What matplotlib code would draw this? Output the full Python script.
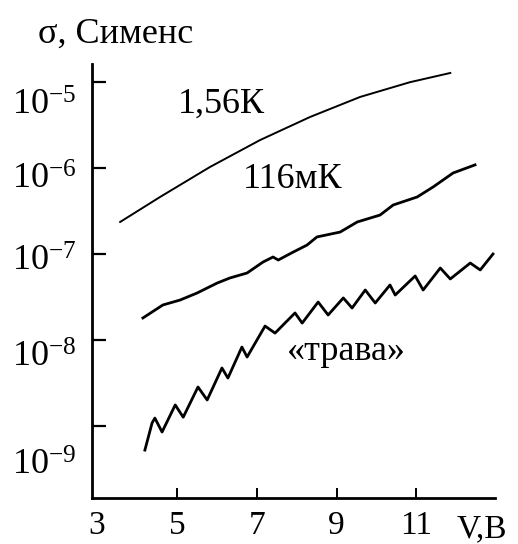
import numpy as np
import matplotlib
matplotlib.use("Agg")
import matplotlib.pyplot as plt
from matplotlib.transforms import ScaledTranslation

plt.rcParams['font.family'] = ['Liberation Serif', 'DejaVu Serif']
plt.rcParams['mathtext.fontset'] = 'custom'
plt.rcParams['mathtext.rm'] = 'Liberation Serif'
plt.rcParams['mathtext.it'] = 'Liberation Serif:italic'

# --- conductance vs voltage, three traces ---
v_hot = [3.58, 4.58, 5.83, 7.085, 8.34, 9.59, 10.84, 11.85]
s_hot = [2.36e-7, 4.61e-7, 1.03e-6, 2.12e-6, 3.94e-6, 6.73e-6, 1.00e-5, 1.28e-5]

v_cold = [4.15, 4.65, 5.08, 5.51, 6.01, 6.33, 6.76, 7.16, 7.41, 7.54, 7.91,
          8.26, 8.51, 9.09, 9.52, 10.09, 10.42, 11.02, 11.42, 11.92, 12.47]
s_cold = [1.80e-8, 2.55e-8, 2.91e-8, 3.52e-8, 4.59e-8, 5.26e-8, 6.01e-8,
          8.07e-8, 9.23e-8, 8.51e-8, 1.05e-7, 1.27e-7, 1.58e-7, 1.80e-7,
          2.36e-7, 2.84e-7, 3.72e-7, 4.61e-7, 6.03e-7, 8.77e-7, 1.09e-6]

v_grass = [4.20, 4.38, 4.45, 4.63, 4.96, 5.16, 5.53, 5.76, 6.13, 6.28, 6.63,
           6.76, 7.21, 7.46, 7.96, 8.14, 8.54, 8.79, 9.17, 9.39, 9.72, 9.97,
           10.34, 10.47, 10.97, 11.17, 11.60, 11.85, 12.35, 12.60, 12.92]
s_grass = [5.22e-10, 1.08e-9, 1.23e-9, 8.47e-10, 1.75e-9, 1.26e-9, 2.83e-9,
           2.00e-9, 4.71e-9, 3.60e-9, 8.26e-9, 6.32e-9, 1.45e-8, 1.20e-8,
           2.06e-8, 1.57e-8, 2.76e-8, 1.95e-8, 3.08e-8, 2.35e-8, 3.81e-8,
           2.69e-8, 4.36e-8, 3.33e-8, 5.55e-8, 3.81e-8, 6.87e-8, 5.12e-8,
           7.85e-8, 6.52e-8, 1.00e-7]

x_ticks = [3, 5, 7, 9, 11]
y_ticks = [1e-9, 1e-8, 1e-7, 1e-6, 1e-5]

fig = plt.figure(figsize=(5.18, 5.44), dpi=100)
ax = fig.add_axes([0.1776, 0.0846, 0.778, 0.7978])

ax.plot(v_hot, s_hot, color='black', lw=1.4)
ax.plot(v_cold, s_cold, color='black', lw=2.0)
ax.plot(v_grass, s_grass, color='black', lw=2.0)

ax.set_yscale('log')
ax.set_xlim(2.875, 12.97)
ax.set_ylim(10 ** -9.84, 10 ** -4.788)

for side in ['top', 'right']:
    ax.spines[side].set_visible(False)
for side in ['left', 'bottom']:
    ax.spines[side].set_linewidth(2.0)

ax.set_xticks(x_ticks)
ax.set_xticklabels([str(t) for t in x_ticks])
ax.set_yticks(y_ticks)
ax.set_yticklabels([r'$10^{%d}$' % int(np.log10(t)) for t in y_ticks])
ax.yaxis.set_minor_locator(matplotlib.ticker.NullLocator())

ax.tick_params(axis='y', direction='in', length=10, width=1.6,
               labelsize=26, pad=11)
ax.tick_params(axis='x', direction='in', length=7, width=1.4,
               labelsize=24, pad=9)
ax.xaxis.get_major_ticks()[0].tick1line.set_visible(False)

# hand-set drop of each decade label below its tick (pixels)
drops = [36, 14, 4, 8, 20]
for lab, d in zip(ax.get_yticklabels(), drops):
    shift = ScaledTranslation(0, -d / 100, fig.dpi_scale_trans)
    lab.set_transform(lab.get_transform() + shift)

ax.text(5.03, 10 ** -5.36, '1,56К', fontsize=26, ha='left', va='baseline')
ax.text(6.66, 10 ** -6.23, '116мК', fontsize=26, ha='left', va='baseline')
ax.text(7.76, 10 ** -8.23, '«трава»', fontsize=26, ha='left', va='baseline')

fig.text(0.073, 0.921, 'σ, Сименс', fontsize=26, ha='left', va='baseline')
fig.text(0.882, 0.012, 'V,B', fontsize=24, ha='left', va='baseline')

fig.savefig('out.png', dpi=100)
